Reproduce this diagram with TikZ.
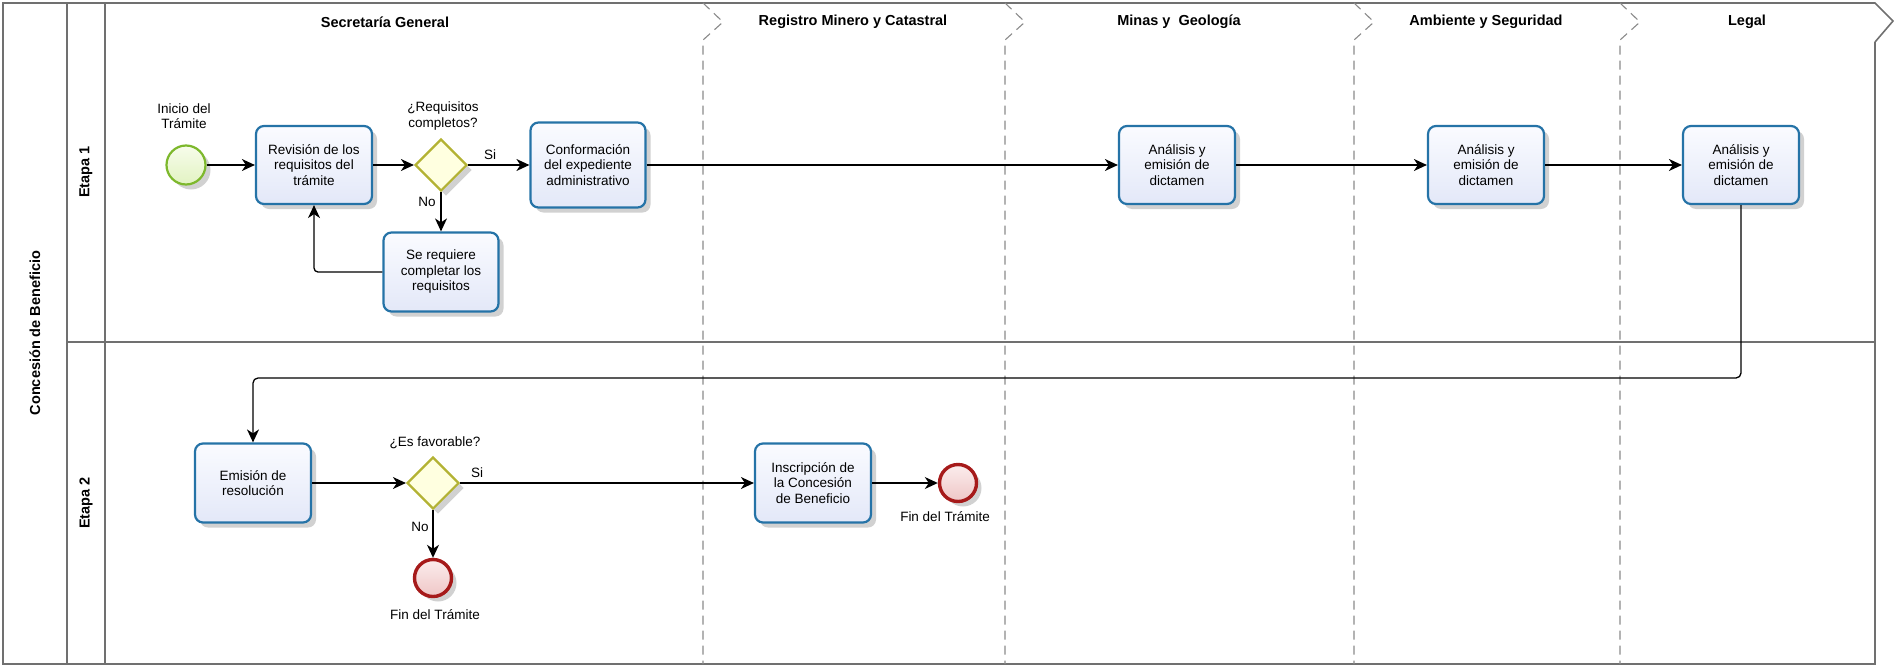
\documentclass[tikz,border=0pt]{standalone}
\usepackage{fontspec}
\setmainfont{Liberation Sans}
\usetikzlibrary{shapes.geometric,arrows.meta,shadows}
\definecolor{poolgray}{HTML}{707070}
\definecolor{sepgray}{HTML}{8A8A8A}
\definecolor{taskblue}{HTML}{2573A7}
\definecolor{tasktop}{HTML}{FAFBFF}
\definecolor{taskbot}{HTML}{E3E8F8}
\definecolor{startline}{HTML}{7DB82C}
\definecolor{starttop}{HTML}{F7FCEB}
\definecolor{startbot}{HTML}{E2F3C2}
\definecolor{endline}{HTML}{A61A1A}
\definecolor{endtop}{HTML}{FBEDED}
\definecolor{endbot}{HTML}{EFC6C6}
\definecolor{gwline}{HTML}{B3B233}
\definecolor{gwfill}{HTML}{FFFFE0}
\tikzset{
  shad/.style={drop shadow={shadow xshift=5pt,shadow yshift=-5pt,opacity=0.18,fill=black}},
  task/.style={rectangle, rounded corners=8pt, draw=taskblue, line width=2.2pt,
    top color=tasktop, bottom color=taskbot, minimum width=116pt, minimum height=78pt,
    align=center, inner sep=2pt, font=\fontsize{13.5}{15.5}\selectfont, shad},
  startev/.style={circle, draw=startline, line width=2.2pt, top color=starttop, bottom color=startbot,
    minimum size=39pt, inner sep=0pt, shad},
  endev/.style={circle, draw=endline, line width=3.4pt, top color=endtop, bottom color=endbot,
    minimum size=37pt, inner sep=0pt, shad},
  gw/.style={diamond, draw=gwline, line width=2.2pt, fill=gwfill, minimum width=52pt,
    minimum height=52pt, inner sep=0pt, shad},
  lbl/.style={align=center, font=\fontsize{13.5}{15.5}\selectfont, inner sep=0pt},
  hdr/.style={font=\fontsize{14.5}{17}\selectfont\bfseries, inner sep=0pt},
  vlbl/.style={font=\fontsize{14.5}{17}\selectfont\bfseries, rotate=90, inner sep=0pt},
  flow/.style={draw=black, line width=1.3pt, -{Stealth[length=13pt,width=12pt,inset=4pt]}},
  poolline/.style={draw=poolgray, line width=1.6pt},
  sepline/.style={draw=sepgray, line width=1.1pt, dash pattern=on 9pt off 6pt},
}
\begin{document}
\begin{tikzpicture}[x=1pt,y=-1pt]
\useasboundingbox (0,0) rectangle (1894,667);
% pool frame
\draw[poolline] (1875,42) -- (1875,664) -- (3,664) -- (3,3) -- (1875,3) -- (1893,21) -- (1875,42);
\draw[poolline] (67,3) -- (67,664);
\draw[poolline] (105,3) -- (105,664);
\draw[poolline] (67,342) -- (1875,342);
% column separators
\foreach \sx in {703,1005,1354,1620}{
  \draw[sepline] (\sx,3) -- (\sx+20,22) -- (\sx,40) -- (\sx,664);
}
% headers
\node[hdr] (h1) at (385,22) {Secretaría General};
\node[hdr] (h2) at (853,22) {Registro Minero y Catastral};
\node[hdr] (h3) at (1179,22) {Minas y\ \ Geología};
\node[hdr] (h4) at (1486,22) {Ambiente y Seguridad};
\node[hdr] (h5) at (1747,22) {Legal};
\node[vlbl] (pool) at (35,333) {Concesión de Beneficio};
\node[vlbl] (l1) at (86,172) {Etapa 1};
\node[vlbl] (l2) at (86,503) {Etapa 2};
% lane 1 nodes
\node[startev] (start) at (186,165) {};
\node[lbl] (startl) at (184,116) {Inicio del\\Trámite};
\node[task] (rev) at (314,165) {Revisión de los\\requisitos del\\trámite};
\node[gw] (gw1) at (441,165) {};
\node[lbl] (gw1l) at (443,116) {¿Requisitos\\completos?};
\node[task, minimum height=85pt, minimum width=115pt] (conf) at (588,165) {Conformación\\del expediente\\administrativo};
\node[task, minimum width=115pt, minimum height=79pt] (sereq) at (441,272) {Se requiere\\completar los\\requisitos};
\node[task] (minas) at (1177,165) {Análisis y\\emisión de\\dictamen};
\node[task] (amb) at (1486,165) {Análisis y\\emisión de\\dictamen};
\node[task] (legal) at (1741,165) {Análisis y\\emisión de\\dictamen};
\node[lbl] (si1) at (490,155) {Si};
\node[lbl] (no1) at (427,202) {No};
% lane 2 nodes
\node[task, minimum height=79pt] (emi) at (253,483) {Emisión de\\resolución};
\node[gw] (gw2) at (433,483) {};
\node[lbl] (gw2l) at (435,443) {¿Es favorable?};
\node[endev] (end1) at (433,578) {};
\node[lbl] (end1l) at (435,615) {Fin del Trámite};
\node[task, minimum height=79pt] (insc) at (813,483) {Inscripción de\\la Concesión\\de Beneficio};
\node[endev] (end2) at (958,483) {};
\node[lbl] (end2l) at (945,517) {Fin del Trámite};
\node[lbl] (si2) at (477,473) {Si};
\node[lbl] (no2) at (420,527) {No};
\coordinate (bend) at (253,378);
% connectors
\draw[flow] (start) -- (rev);
\draw[flow] (rev) -- (gw1);
\draw[flow] (gw1) -- (conf);
\draw[flow] (gw1.south) -- (sereq.north);
\draw[flow, rounded corners=4pt] (sereq.west) -| (rev.south);
\draw[flow] (conf) -- (minas);
\draw[flow] (minas) -- (amb);
\draw[flow] (amb) -- (legal);
\draw[flow, rounded corners=5pt] (legal.south) |- (bend) -- (emi.north);
\draw[flow] (emi) -- (gw2);
\draw[flow] (gw2) -- (insc);
\draw[flow] (insc) -- (end2);
\draw[flow] (gw2.south) -- (end1.north);
\end{tikzpicture}
\end{document}
